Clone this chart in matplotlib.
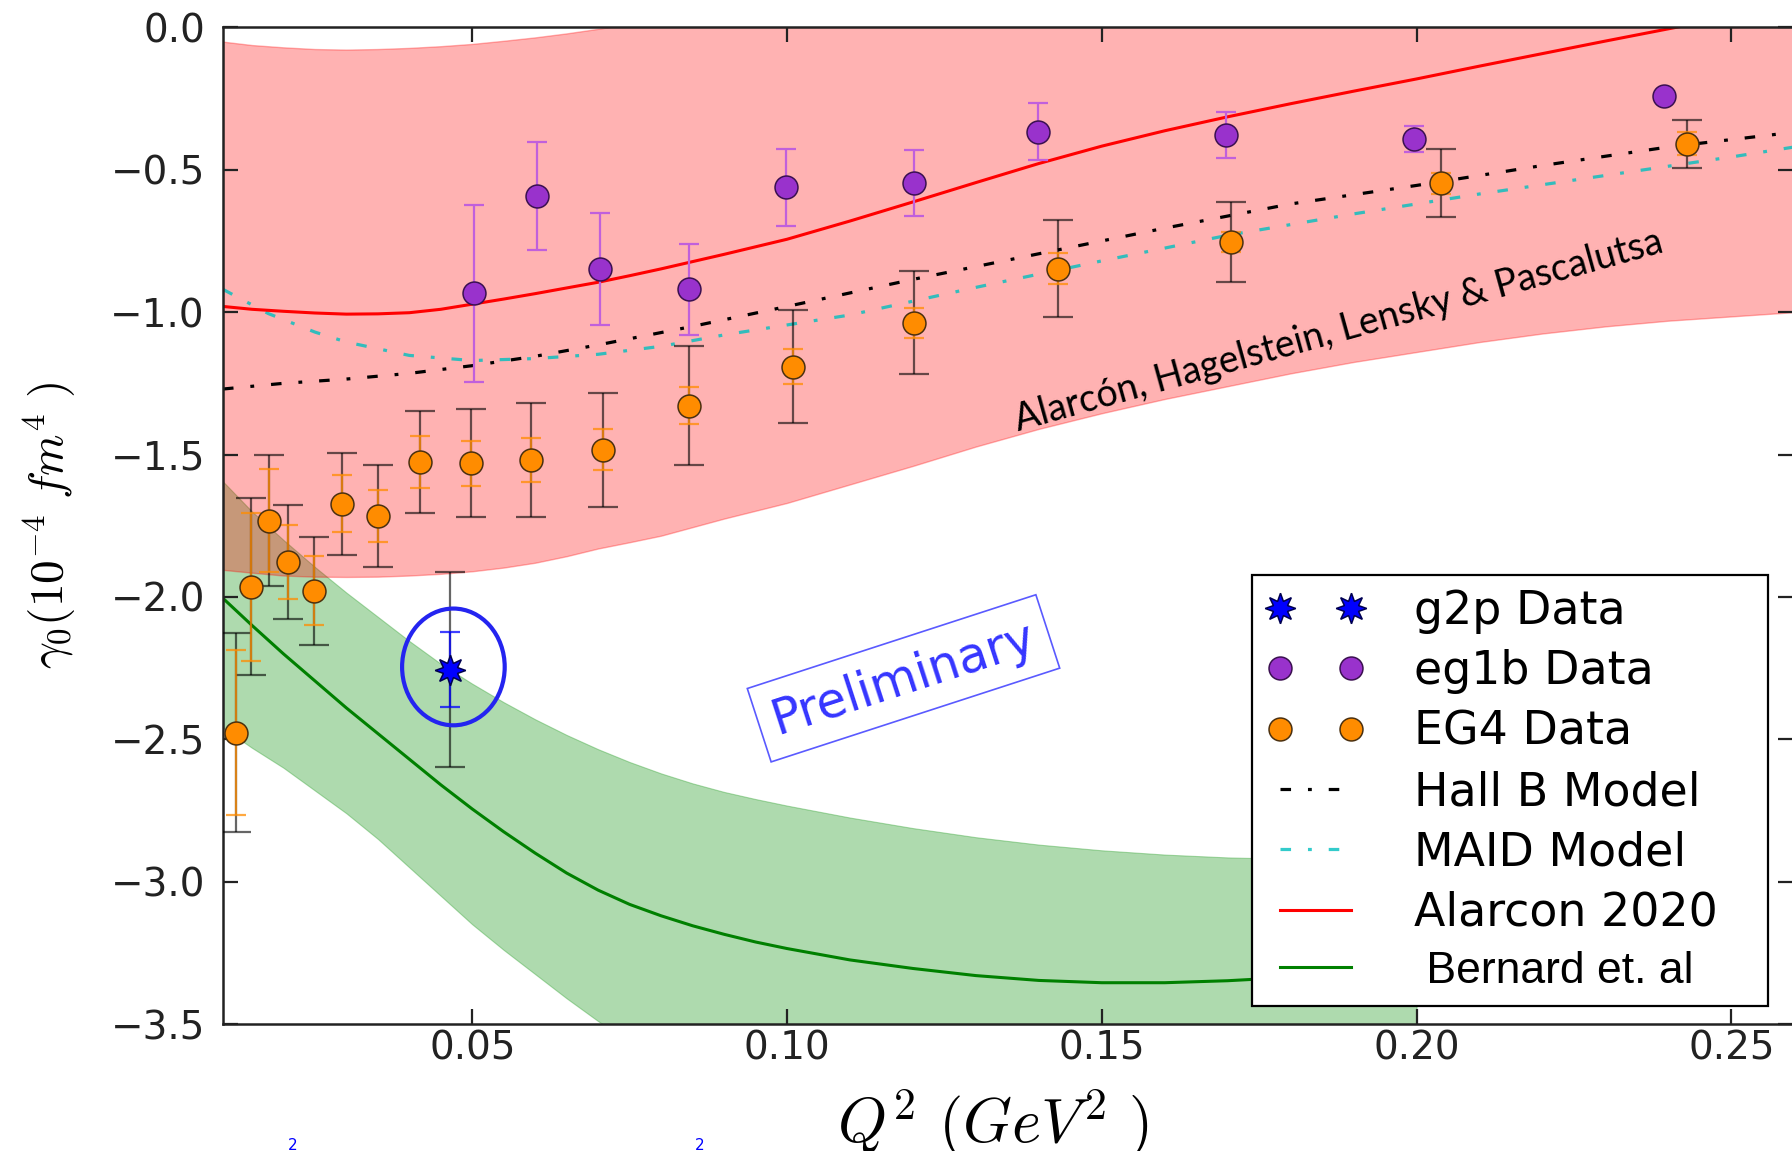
import matplotlib
matplotlib.use("Agg")
import matplotlib.pyplot as plt
from matplotlib.patches import Ellipse

plt.rcParams["mathtext.fontset"] = "cm"
plt.rcParams["font.family"] = ["DejaVu Sans"]

# ---------------- data ----------------
# EG4 (total and statistical uncertainties)
eg4_q2 = [0.0124, 0.0149, 0.0177, 0.0208, 0.0249, 0.0293, 0.0350, 0.0417,
          0.0498, 0.0594, 0.0708, 0.0844, 0.1009, 0.1202, 0.1430, 0.1706,
          0.2039, 0.2429]
eg4_gamma = [-2.477, -1.964, -1.732, -1.876, -1.978, -1.673, -1.716, -1.526,
             -1.531, -1.519, -1.484, -1.328, -1.191, -1.037, -0.847, -0.754,
             -0.547, -0.409]
eg4_tot = [0.35, 0.31, 0.23, 0.20, 0.19, 0.18, 0.18, 0.18, 0.19, 0.20, 0.20,
           0.21, 0.20, 0.18, 0.17, 0.14, 0.12, 0.085]
eg4_stat = [0.29, 0.26, 0.18, 0.13, 0.12, 0.10, 0.09, 0.09, 0.08, 0.077,
            0.072, 0.065, 0.06, 0.053, 0.053, 0.035, 0.037, 0.04]

# eg1b
eg1b_q2 = [0.0502, 0.0603, 0.0703, 0.0844, 0.0999, 0.1202, 0.1398, 0.1698,
           0.1996, 0.2393]
eg1b_gamma = [-0.934, -0.592, -0.848, -0.920, -0.562, -0.548, -0.366,
              -0.378, -0.393, -0.240]
eg1b_err = [0.31, 0.19, 0.197, 0.16, 0.136, 0.116, 0.10, 0.08, 0.045, 0.01]

# g2p
g2p_q2 = [0.0464]
g2p_gamma = [-2.256]
g2p_stat = [0.132]
g2p_tot = [0.343]

# Alarcón, Hagelstein, Lensky & Pascalutsa (central curve and band)
alarcon_q2 = [0.0104, 0.015, 0.02, 0.025, 0.03, 0.035, 0.04, 0.045, 0.05,
              0.055, 0.06, 0.065, 0.07, 0.075, 0.08, 0.09, 0.10, 0.11, 0.12,
              0.13, 0.14, 0.15, 0.16, 0.17, 0.18, 0.19, 0.20, 0.21, 0.22,
              0.23, 0.24, 0.25, 0.26]
alarcon_central = [-0.98, -0.99, -0.997, -1.003, -1.007, -1.006, -1.002,
                   -0.99, -0.972, -0.954, -0.935, -0.915, -0.895, -0.872,
                   -0.848, -0.797, -0.744, -0.680, -0.613, -0.545, -0.478,
                   -0.417, -0.363, -0.314, -0.268, -0.224, -0.181, -0.136,
                   -0.092, -0.048, -0.005, 0.037, 0.078]
alarcon_upper = [-0.05, -0.062, -0.07, -0.076, -0.078, -0.076, -0.072,
                 -0.066, -0.058, -0.047, -0.035, -0.021, -0.005, 0.012, 0.03,
                 0.07, 0.11, 0.15, 0.19, 0.23, 0.27, 0.31, 0.35, 0.39, 0.43,
                 0.47, 0.51, 0.55, 0.59, 0.63, 0.67, 0.71, 0.75]
alarcon_lower = [-1.905, -1.915, -1.925, -1.929, -1.93, -1.929, -1.925,
                 -1.919, -1.91, -1.897, -1.88, -1.857, -1.83, -1.808, -1.785,
                 -1.725, -1.67, -1.605, -1.54, -1.472, -1.41, -1.355, -1.305,
                 -1.26, -1.215, -1.175, -1.14, -1.105, -1.075, -1.05, -1.03,
                 -1.015, -1.0]

# Bernard et al. (central curve and band)
bernard_q2 = [0.0104, 0.015, 0.02, 0.025, 0.03, 0.035, 0.04, 0.045, 0.05,
              0.055, 0.06, 0.065, 0.07, 0.075, 0.08, 0.085, 0.09, 0.095,
              0.10, 0.11, 0.12, 0.13, 0.14, 0.15, 0.16, 0.17, 0.18, 0.19,
              0.20]
bernard_central = [-2.005, -2.10, -2.20, -2.295, -2.39, -2.48, -2.57, -2.66,
                   -2.745, -2.825, -2.90, -2.97, -3.03, -3.08, -3.12, -3.155,
                   -3.185, -3.212, -3.235, -3.275, -3.305, -3.33, -3.347,
                   -3.355, -3.355, -3.348, -3.336, -3.32, -3.30]
bernard_upper = [-1.595, -1.70, -1.80, -1.895, -1.985, -2.07, -2.155, -2.235,
                 -2.305, -2.37, -2.43, -2.485, -2.535, -2.58, -2.62, -2.655,
                 -2.685, -2.71, -2.733, -2.775, -2.812, -2.844, -2.87, -2.89,
                 -2.905, -2.915, -2.92, -2.922, -2.922]
bernard_lower = [-2.46, -2.53, -2.60, -2.68, -2.76, -2.85, -2.95, -3.05,
                 -3.15, -3.24, -3.325, -3.41, -3.49, -3.565, -3.64, -3.71,
                 -3.78, -3.84, -3.9, -4.0, -4.1, -4.18, -4.25, -4.3, -4.34,
                 -4.37, -4.39, -4.4, -4.4]

# Hall B and MAID models
hallb_q2 = [0.0104, 0.02, 0.03, 0.04, 0.05, 0.06, 0.07, 0.085, 0.10, 0.12,
            0.14, 0.16, 0.18, 0.20, 0.22, 0.24, 0.26]
hallb_gamma = [-1.27, -1.25, -1.235, -1.215, -1.188, -1.155, -1.115, -1.05,
               -0.98, -0.885, -0.795, -0.705, -0.62, -0.555, -0.485, -0.42,
               -0.368]
maid_q2 = [0.0104, 0.0176, 0.025, 0.03, 0.04, 0.05, 0.06, 0.07, 0.08, 0.09,
           0.10, 0.11, 0.13, 0.15, 0.17, 0.19, 0.21, 0.23, 0.25, 0.26]
maid_gamma = [-0.92, -1.005, -1.07, -1.105, -1.152, -1.17, -1.163, -1.148,
              -1.12, -1.08, -1.045, -1.01, -0.913, -0.82, -0.73, -0.655,
              -0.585, -0.52, -0.455, -0.42]

x_ticks = [0.05, 0.10, 0.15, 0.20, 0.25]
y_ticks = [-3.5, -3.0, -2.5, -2.0, -1.5, -1.0, -0.5, 0.0]

# ---------------- figure ----------------
fig = plt.figure(figsize=(17.92, 11.51), dpi=100)
ax = fig.add_axes([223 / 1792, 127 / 1151, 1570 / 1792, 996.6 / 1151])

# theory bands
ax.fill_between(bernard_q2, bernard_lower, bernard_upper, color="#2ca02c",
                alpha=0.38, lw=0.8, zorder=1)
ax.fill_between(alarcon_q2, alarcon_lower, alarcon_upper, color="red",
                alpha=0.3, lw=1.0, zorder=1.1)

dashdot = (0, (3.3, 5.3, 1.2, 5.3))
hallb_line, = ax.plot(hallb_q2, hallb_gamma, color="black", lw=2.3,
                      ls=dashdot, zorder=2, label="Hall B Model")
maid_line, = ax.plot(maid_q2, maid_gamma, color="#00bfbf", alpha=0.8,
                     lw=2.3, ls=dashdot, zorder=2, label="MAID Model")
alarcon_line, = ax.plot(alarcon_q2, alarcon_central, color="red", lw=2.2,
                        zorder=2.2, label="Alarcon 2020")
bernard_line, = ax.plot(bernard_q2, bernard_central, color="green", lw=2.2,
                        zorder=2.2, label=" Bernard et. al")

# EG4
ax.errorbar(eg4_q2, eg4_gamma, yerr=eg4_tot, fmt="none", ecolor="black",
            alpha=0.6, elinewidth=1.6, capsize=10.5, capthick=1.6, zorder=4)
ax.errorbar(eg4_q2, eg4_gamma, yerr=eg4_stat, fmt="none",
            ecolor="darkorange", alpha=0.75, elinewidth=1.6, capsize=7.5,
            capthick=1.6, zorder=4.5)
eg4_pts, = ax.plot(eg4_q2, eg4_gamma, "o", ms=16.5, mfc="darkorange",
                   mec="#4a3010", mew=1.1, ls="none", zorder=6,
                   label="EG4 Data")

# eg1b
ax.errorbar(eg1b_q2, eg1b_gamma, yerr=eg1b_err, fmt="none",
            ecolor="#c060dc", elinewidth=1.6, capsize=7.5, capthick=1.6,
            zorder=4)
eg1b_pts, = ax.plot(eg1b_q2, eg1b_gamma, "o", ms=16.5, mfc="#9932cc",
                    mec="#3a1050", mew=1.1, ls="none", zorder=6,
                    label="eg1b Data")

# g2p
ax.errorbar(g2p_q2, g2p_gamma, yerr=g2p_tot, fmt="none", ecolor="black",
            alpha=0.6, elinewidth=1.6, capsize=10.5, capthick=1.6, zorder=4)
ax.errorbar(g2p_q2, g2p_gamma, yerr=g2p_stat, fmt="none", ecolor="blue",
            alpha=0.75, elinewidth=1.6, capsize=7.5, capthick=1.6,
            zorder=4.5)
g2p_pts, = ax.plot(g2p_q2, g2p_gamma, marker=(8, 1, 0), ms=22, mfc="blue",
                   mec="#000050", mew=1.1, ls="none", zorder=6,
                   label="g2p Data")
ax.add_patch(Ellipse((g2p_q2[0] + 0.0006, g2p_gamma[0] + 0.01), 0.0163, 0.41,
                     fill=False, ec="#2424f0", lw=3.0, zorder=8))

# annotations
ax.text(0.1185, -2.286, "Preliminary", rotation=18, rotation_mode="anchor",
        ha="center", va="center", fontsize=35, color="#3535ff", zorder=7,
        bbox=dict(boxstyle="square,pad=0.3", fc="none", ec="#5a5aff",
                  lw=1.2))
ax.text(0.1367, -1.418, "Alarcón, Hagelstein, Lensky & Pascalutsa",
        rotation=15.5, rotation_mode="anchor", ha="left", va="baseline",
        fontsize=27, family="Lato", color="black", zorder=7)

# axes
ax.set_xlim(0.0104, 0.2598)
ax.set_ylim(-3.5, 0.0)
ax.set_xticks(x_ticks)
ax.set_xticklabels([f"{v:.2f}" for v in x_ticks])
ax.set_yticks(y_ticks)
ax.set_yticklabels([f"{v:.1f}".replace("-", "\u2212") for v in y_ticks])
ax.tick_params(direction="in", top=True, right=True, length=11, width=1.6,
               labelsize=28, colors="#222222")
ax.tick_params(axis="x", pad=4)
ax.tick_params(axis="y", pad=13)
for sp in ax.spines.values():
    sp.set_linewidth(1.8)
    sp.set_color("#222222")

ax.set_ylabel(r"$\gamma_0(10^{-4}\ fm^4\ )$", fontsize=34)
ax.yaxis.set_label_coords(-0.092, 0.5)
ax.set_xlabel(r"$Q^2\ (GeV^2\ )$", fontsize=45)
ax.xaxis.set_label_coords(0.49, -0.064)

handles = [g2p_pts, eg1b_pts, eg4_pts, hallb_line, maid_line, alarcon_line,
           bernard_line]
leg = ax.legend(handles=handles, loc="lower left",
                bbox_to_anchor=(0.6556, 0.018, 0.3284, 0.4365),
                mode="expand", numpoints=2, fontsize=33, labelspacing=0.335,
                borderpad=0.3, handlelength=2.15, handletextpad=1.07,
                fancybox=False, framealpha=1, edgecolor="black",
                borderaxespad=0)
leg.get_frame().set_linewidth(1.6)
leg.set_zorder(10)
bern = leg.get_texts()[-1]
bern.set_fontfamily("Liberation Sans")
bern.set_fontsize(32)

# clipped superscripts of the caption below the figure
fig.text(293 / 1792, -2 / 1151, "2", color="blue", fontsize=11, ha="center",
         va="bottom")
fig.text(700 / 1792, -2 / 1151, "2", color="blue", fontsize=11, ha="center",
         va="bottom")

fig.savefig("out.png", dpi=100, facecolor="white")
